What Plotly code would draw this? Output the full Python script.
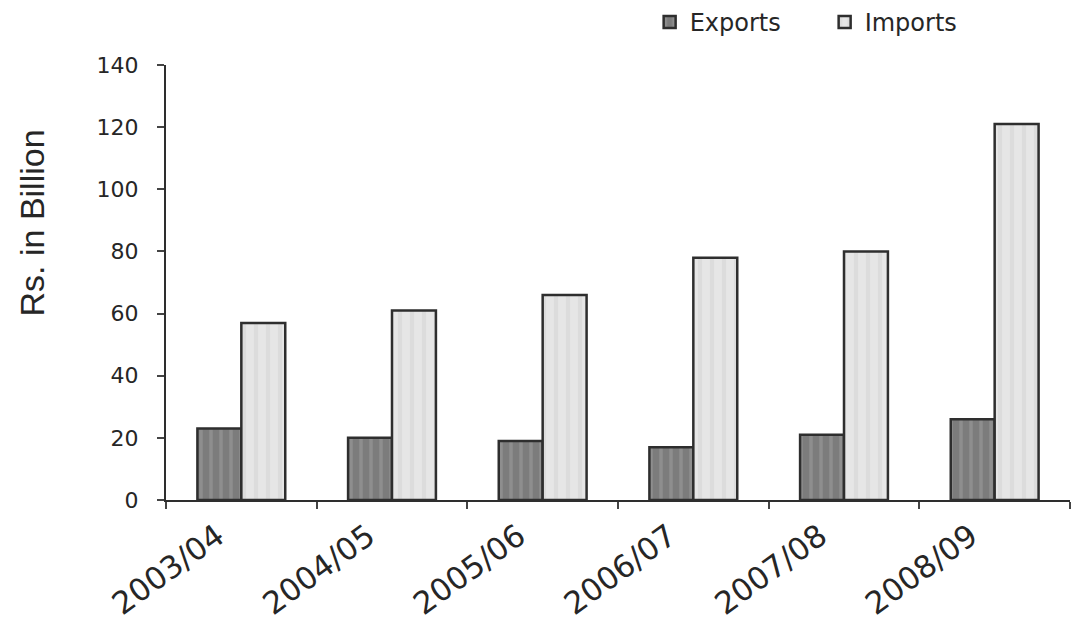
import plotly.graph_objects as go

# Trade values, Rs. in Billion
years = ["2003/04", "2004/05", "2005/06", "2006/07", "2007/08", "2008/09"]
exports = [23, 20, 19, 17, 21, 26]
imports = [57, 61, 66, 78, 80, 121]
y_ticks = [0, 20, 40, 60, 80, 100, 120, 140]

fig = go.Figure()
fig.add_trace(go.Bar(
    name="Exports", x=years, y=exports,
    marker=dict(color="#7c7c7c",
                line=dict(color="#2e2e2e", width=2.5),
                pattern=dict(shape="|", bgcolor="#7c7c7c", fgcolor="#a0a0a0",
                             size=10, solidity=0.35, fillmode="overlay")),
))
fig.add_trace(go.Bar(
    name="Imports", x=years, y=imports,
    marker=dict(color="#e6e6e6",
                line=dict(color="#2e2e2e", width=2.5),
                pattern=dict(shape="|", bgcolor="#e6e6e6", fgcolor="#d2d2d2",
                             size=12, solidity=0.35, fillmode="overlay")),
))

text_color = "#262626"

fig.update_layout(
    width=1078, height=641,
    margin=dict(l=166, r=8, t=65, b=141, autoexpand=False),
    paper_bgcolor="white", plot_bgcolor="white",
    barmode="group", bargap=0.417, bargroupgap=0,
    showlegend=True,
    legend=dict(orientation="h", x=0.535, xanchor="left",
                yref="container", y=1.0, yanchor="top",
                font=dict(family="DejaVu Sans", size=24, color=text_color),
                bgcolor="rgba(0,0,0,0)", entrywidth=130, entrywidthmode="pixels",
                traceorder="normal"),
    xaxis=dict(
        showline=True, linecolor="#2e2e2e", linewidth=2,
        ticks="outside", tickson="boundaries", ticklen=7, tickwidth=2, tickcolor="#444",
        tickangle=-36, tickfont=dict(family="DejaVu Sans", size=31, color=text_color),
        ticklabelshift=-24, ticklabelstandoff=4,
        showgrid=False, zeroline=False,
    ),
    yaxis=dict(
        range=[0, 140], tickvals=y_ticks, ticktext=[str(v) for v in y_ticks],
        showline=True, linecolor="#2e2e2e", linewidth=2,
        ticks="outside", ticklen=7, tickwidth=2, tickcolor="#444",
        tickfont=dict(family="DejaVu Sans", size=22, color=text_color),
        ticklabelstandoff=14,
        showgrid=False, zeroline=False,
    ),
    annotations=[dict(
        text="Rs. in Billion", textangle=-90,
        xref="paper", yref="paper", x=-0.1487, y=0.637,
        xanchor="center", yanchor="middle", showarrow=False,
        font=dict(family="Liberation Sans", size=34, color=text_color),
    )],
)

fig.write_html("out.html")
